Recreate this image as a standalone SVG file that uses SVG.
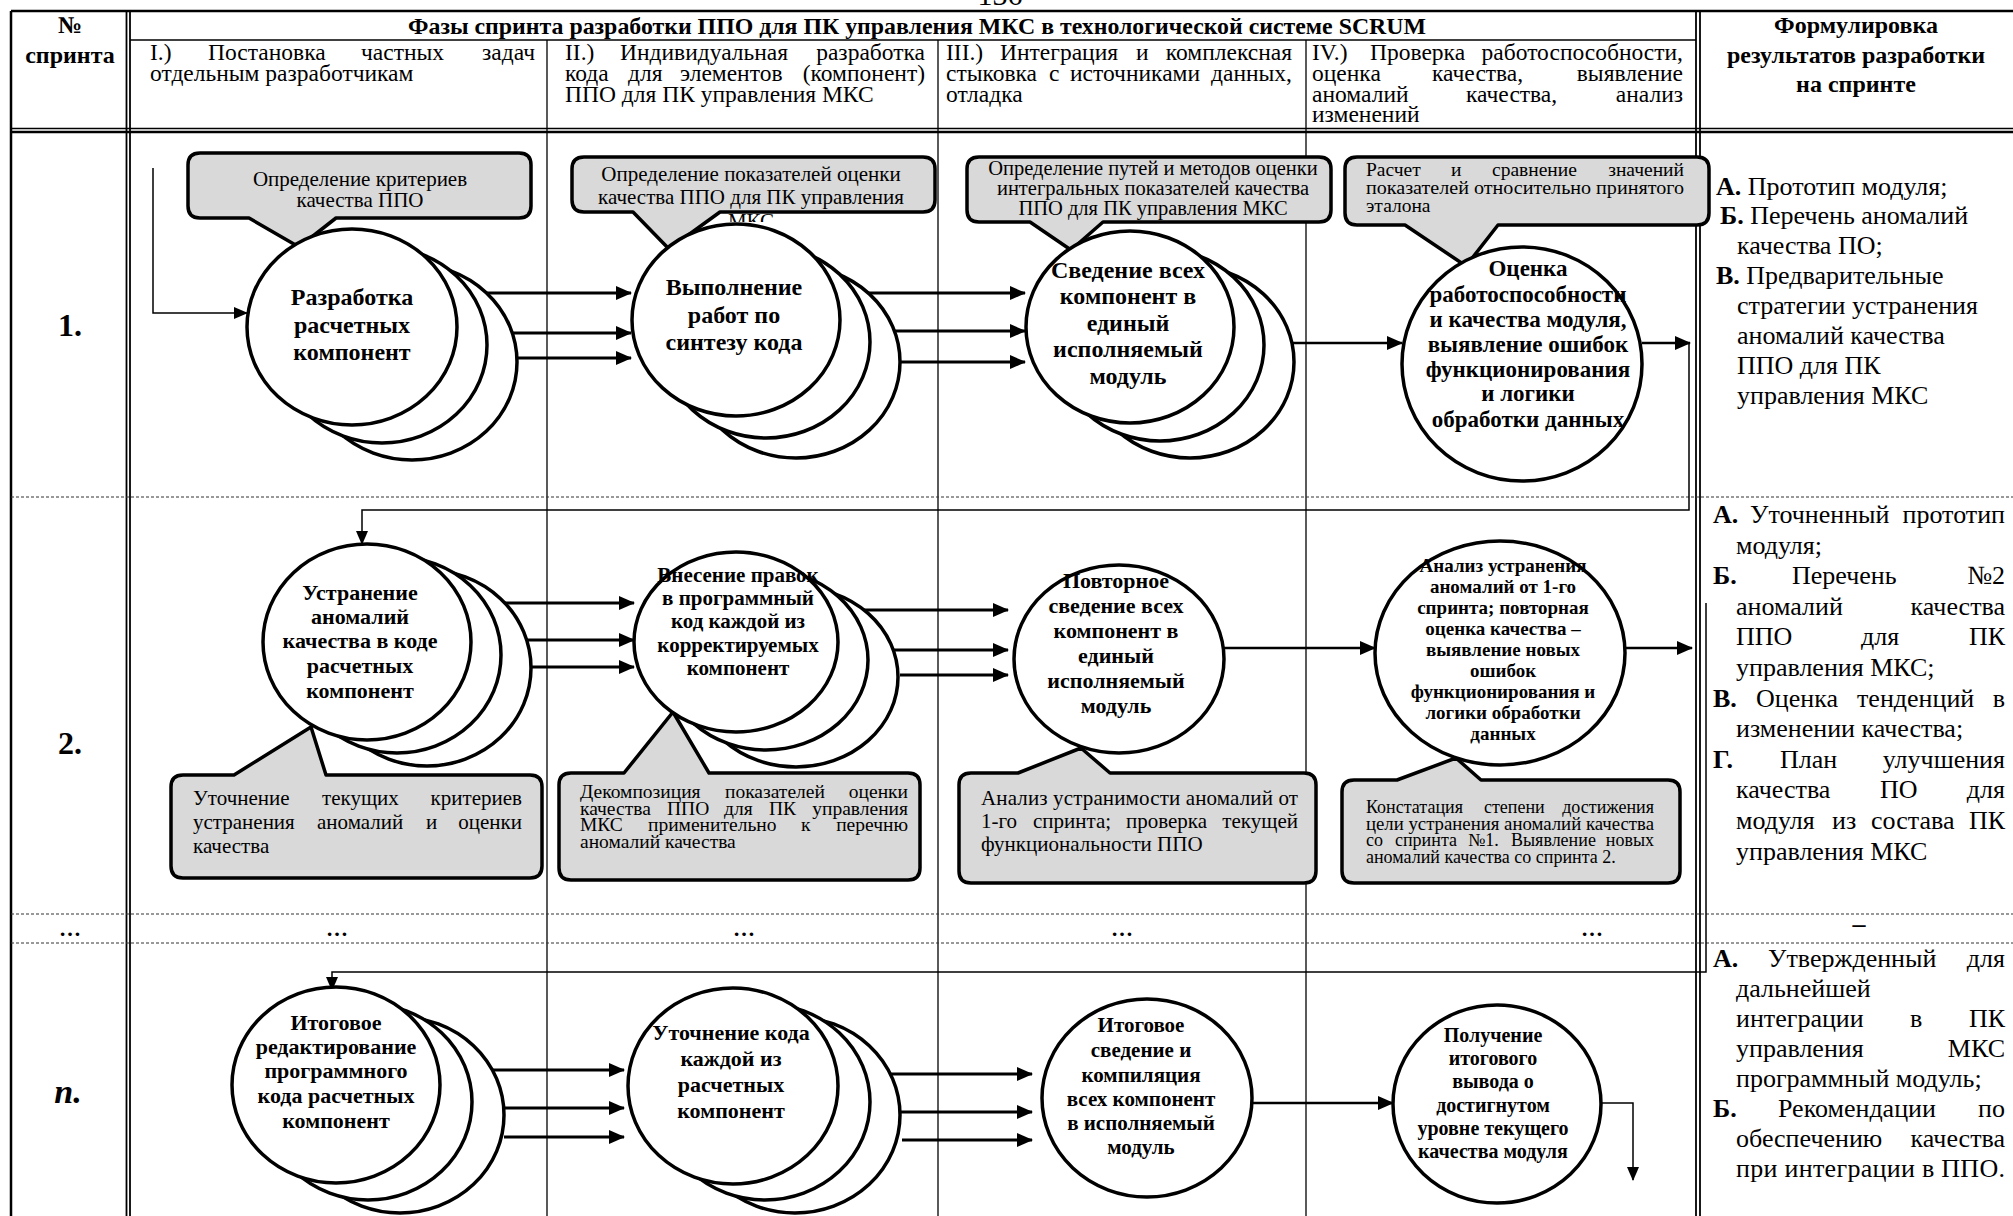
<svg xmlns="http://www.w3.org/2000/svg" width="2013" height="1216" viewBox="0 0 2013 1216">
<style>
text{font-family:"Liberation Serif","Times New Roman",serif;fill:#000}
.e{text-anchor:end}
.m{text-anchor:middle}
.b{font-weight:bold}
.ph{font-size:23.5px}
.hd{font-size:24px;font-weight:bold;text-anchor:middle}
.rs{font-size:26px}
.nd{font-weight:bold;text-anchor:middle}
.ln{stroke:#000;fill:none}
.thk{stroke-width:2.5}
.thin{stroke-width:1.3}
.dbl{stroke-width:1.8}
.dash{stroke:#333;stroke-width:1;stroke-dasharray:3 2;fill:none}
.co path{fill:#d9d9d9;stroke:#000;stroke-width:3.5;stroke-linejoin:round}
.node ellipse{fill:#fff;stroke:#000;stroke-width:3.5}
.wire{fill:none;stroke:#000}
.w3{stroke-width:3}
.w2{stroke-width:2.5}
.w1{stroke-width:1.5}
</style>
<defs>
<marker id="ah" viewBox="0 0 16 14" refX="15" refY="7" markerWidth="16" markerHeight="14" markerUnits="userSpaceOnUse" orient="auto"><path d="M0,0L16,7L0,14z"/></marker>
<marker id="as" viewBox="0 0 14 12" refX="13" refY="6" markerWidth="14" markerHeight="12" markerUnits="userSpaceOnUse" orient="auto"><path d="M0,0L14,6L0,12z"/></marker>
<clipPath id="cutMks"><rect x="700" y="200" width="120" height="22"/></clipPath>
</defs>

<rect width="2013" height="1216" fill="#fff"/>

<!-- page number, cut by the top edge -->
<text class="m" x="1000" y="5" font-size="30">136</text>

<!-- table grid -->
<g id="grid">
  <line class="ln thk" x1="11" y1="11" x2="2013" y2="11"/>
  <line class="ln thk" x1="11" y1="11" x2="11" y2="1216"/>
  <line class="ln dbl" x1="126.5" y1="11" x2="126.5" y2="1216"/>
  <line class="ln dbl" x1="130" y1="11" x2="130" y2="1216"/>
  <line class="ln thin" x1="130" y1="40" x2="1696" y2="40"/>
  <line class="ln thin" x1="547" y1="40" x2="547" y2="1216"/>
  <line class="ln thin" x1="938" y1="40" x2="938" y2="1216"/>
  <line class="ln thin" x1="1306" y1="40" x2="1306" y2="1216"/>
  <line class="ln dbl" x1="1696" y1="11" x2="1696" y2="1216"/>
  <line class="ln dbl" x1="1700" y1="11" x2="1700" y2="1216"/>
  <line class="ln" stroke-width="1.5" x1="11" y1="128.5" x2="2013" y2="128.5"/>
  <line class="ln thk" x1="11" y1="132" x2="2013" y2="132"/>
  <line class="dash" x1="11" y1="497" x2="2013" y2="497"/>
  <line class="dash" x1="11" y1="914" x2="2013" y2="914"/>
  <line class="dash" x1="11" y1="943" x2="2013" y2="943"/>
</g>

<!-- table header -->
<g id="header">
  <text class="hd" x="70" y="33">№</text>
  <text class="hd" x="70" y="63">спринта</text>
  <text class="hd" x="917" y="34" textLength="1018" lengthAdjust="spacingAndGlyphs">Фазы спринта разработки ППО для ПК управления МКС в технологической системе SCRUM</text>
  <text class="hd" x="1856" y="33">Формулировка</text>
  <text class="hd" x="1856" y="63">результатов разработки</text>
  <text class="hd" x="1856" y="92">на спринте</text>

  <!-- phase I -->
  <text class="ph" y="60"><tspan x="150">I.)</tspan><tspan x="208">Постановка</tspan><tspan x="361">частных</tspan></text>
  <text class="ph e" x="535" y="60">задач</text>
  <text class="ph" x="150" y="81">отдельным разработчикам</text>

  <!-- phase II -->
  <text class="ph" y="60"><tspan x="565">II.)</tspan><tspan x="620">Индивидуальная</tspan></text>
  <text class="ph e" x="925" y="60">разработка</text>
  <text class="ph" y="81"><tspan x="565">кода</tspan><tspan x="628">для</tspan><tspan x="680">элементов</tspan></text>
  <text class="ph e" x="925" y="81">(компонент)</text>
  <text class="ph" x="565" y="102">ППО для ПК управления МКС</text>

  <!-- phase III -->
  <text class="ph" y="60"><tspan x="946">III.)</tspan><tspan x="1000">Интеграция</tspan><tspan x="1136">и</tspan></text>
  <text class="ph e" x="1292" y="60">комплексная</text>
  <text class="ph" y="81"><tspan x="946">стыковка</tspan><tspan x="1049">с</tspan><tspan x="1070">источниками</tspan></text>
  <text class="ph e" x="1292" y="81">данных,</text>
  <text class="ph" x="946" y="102">отладка</text>

  <!-- phase IV -->
  <text class="ph" y="60"><tspan x="1312">IV.)</tspan><tspan x="1370">Проверка</tspan></text>
  <text class="ph e" x="1683" y="60">работоспособности,</text>
  <text class="ph" y="81"><tspan x="1312">оценка</tspan><tspan x="1432">качества,</tspan></text>
  <text class="ph e" x="1683" y="81">выявление</text>
  <text class="ph" y="102"><tspan x="1312">аномалий</tspan><tspan x="1466">качества,</tspan></text>
  <text class="ph e" x="1683" y="102">анализ</text>
  <text class="ph" x="1312" y="122">изменений</text>
</g>

<!-- sprint numbers -->
<g id="sprint-numbers">
  <text class="b m" x="70" y="336" font-size="32">1.</text>
  <text class="b m" x="70" y="754" font-size="32">2.</text>
  <text class="b m" x="70" y="936" font-size="22">…</text>
  <text class="b m" x="68" y="1103" font-size="34" font-style="italic">n.</text>
</g>

<!-- ellipsis row -->
<g id="gap-row">
  <text class="b m" x="337" y="936" font-size="22">…</text>
  <text class="b m" x="744" y="936" font-size="22">…</text>
  <text class="b m" x="1122" y="936" font-size="22">…</text>
  <text class="b m" x="1592" y="936" font-size="22">…</text>
  <text class="b m" x="1859" y="932" font-size="26">–</text>
</g>

<!-- callouts -->
<g id="callout-criteria" class="co">
  <path d="M200,153H519Q531,153 531,165V206Q531,218 519,218H336L299,247L249,218H200Q188,218 188,206V165Q188,153 200,153Z"/>
  <text class="m" x="360" y="186" font-size="21">Определение критериев</text>
  <text class="m" x="360" y="207" font-size="21">качества ППО</text>
</g>
<g id="callout-indicators" class="co">
  <path d="M584,157H923Q935,157 935,169V200Q935,212 923,212H720L669,249L633,212H584Q572,212 572,200V169Q572,157 584,157Z"/>
  <text class="m" x="751" y="181" font-size="21">Определение показателей оценки</text>
  <text class="m" x="751" y="204" font-size="21">качества ППО для ПК управления</text>
  <text class="m" x="751" y="228" font-size="21" clip-path="url(#cutMks)">МКС</text>
</g>
<g id="callout-methods" class="co">
  <path d="M979,157H1319Q1331,157 1331,169V210Q1331,222 1319,222H1103L1071,250L1030,222H979Q967,222 967,210V169Q967,157 979,157Z"/>
  <text class="m" x="1153" y="175" font-size="20.5">Определение путей и методов оценки</text>
  <text class="m" x="1153" y="195" font-size="20.5">интегральных показателей качества</text>
  <text class="m" x="1153" y="215" font-size="20.5">ППО для ПК управления МКС</text>
</g>
<g id="callout-compare" class="co">
  <path d="M1357,157H1697Q1709,157 1709,169V213Q1709,225 1697,225H1498L1466,266L1405,225H1357Q1345,225 1345,213V169Q1345,157 1357,157Z"/>
  <text y="176" font-size="19.5"><tspan x="1366">Расчет</tspan><tspan x="1451">и</tspan><tspan x="1492">сравнение</tspan></text>
  <text class="e" x="1684" y="176" font-size="19.5">значений</text>
  <text x="1366" y="194" font-size="19.5" textLength="318" lengthAdjust="spacingAndGlyphs">показателей относительно принятого</text>
  <text x="1366" y="212" font-size="19.5">эталона</text>
</g>
<g id="callout-refine" class="co">
  <path d="M183,775H234L311,727L326,775H530Q542,775 542,787V866Q542,878 530,878H183Q171,878 171,866V787Q171,775 183,775Z"/>
  <text y="805" font-size="21"><tspan x="193">Уточнение</tspan><tspan x="322">текущих</tspan></text>
  <text class="e" x="522" y="805" font-size="21">критериев</text>
  <text y="829" font-size="21"><tspan x="193">устранения</tspan><tspan x="317">аномалий</tspan><tspan x="426">и</tspan></text>
  <text class="e" x="522" y="829" font-size="21">оценки</text>
  <text x="193" y="853" font-size="21">качества</text>
</g>
<g id="callout-decompose" class="co">
  <path d="M571,773H624L673,712L709,773H908Q920,773 920,785V868Q920,880 908,880H571Q559,880 559,868V785Q559,773 571,773Z"/>
  <text y="798" font-size="19.5"><tspan x="580">Декомпозиция</tspan><tspan x="725">показателей</tspan></text>
  <text class="e" x="908" y="798" font-size="19.5">оценки</text>
  <text y="814.5" font-size="19.5"><tspan x="580">качества</tspan><tspan x="667">ППО</tspan><tspan x="724">для</tspan><tspan x="769">ПК</tspan></text>
  <text class="e" x="908" y="814.5" font-size="19.5">управления</text>
  <text y="831" font-size="19.5"><tspan x="580">МКС</tspan><tspan x="648">применительно</tspan><tspan x="801">к</tspan></text>
  <text class="e" x="908" y="831" font-size="19.5">перечню</text>
  <text x="580" y="847.5" font-size="19.5">аномалий качества</text>
</g>
<g id="callout-fixability" class="co">
  <path d="M971,773H1018L1081,748L1110,773H1304Q1316,773 1316,785V871Q1316,883 1304,883H971Q959,883 959,871V785Q959,773 971,773Z"/>
  <text x="981" y="805" font-size="21" textLength="317" lengthAdjust="spacing">Анализ устранимости аномалий от</text>
  <text y="828" font-size="21"><tspan x="981">1-го</tspan><tspan x="1033">спринта;</tspan><tspan x="1126">проверка</tspan></text>
  <text class="e" x="1298" y="828" font-size="21">текущей</text>
  <text x="981" y="851" font-size="21">функциональности ППО</text>
</g>
<g id="callout-progress" class="co">
  <path d="M1354,780H1397L1456,758L1481,780H1668Q1680,780 1680,792V871Q1680,883 1668,883H1354Q1342,883 1342,871V792Q1342,780 1354,780Z"/>
  <text y="813" font-size="18"><tspan x="1366">Констатация</tspan><tspan x="1484">степени</tspan></text>
  <text class="e" x="1654" y="813" font-size="18">достижения</text>
  <text x="1366" y="830" font-size="18" textLength="288" lengthAdjust="spacingAndGlyphs">цели устранения аномалий качества</text>
  <text y="846" font-size="18"><tspan x="1366">со</tspan><tspan x="1395">спринта</tspan><tspan x="1468">№1.</tspan><tspan x="1511">Выявление</tspan></text>
  <text class="e" x="1654" y="846" font-size="18">новых</text>
  <text x="1366" y="863" font-size="18">аномалий качества со спринта 2.</text>
</g>

<!-- connectors -->
<g id="connectors">
  <polyline class="wire w1" points="153,168 153,313 247,313" marker-end="url(#as)"/>
  <line class="wire w3" x1="452" y1="293" x2="631" y2="293" marker-end="url(#ah)"/>
  <line class="wire w3" x1="488" y1="333" x2="631" y2="333" marker-end="url(#ah)"/>
  <line class="wire w3" x1="516" y1="358" x2="631" y2="358" marker-end="url(#ah)"/>
  <line class="wire w3" x1="834" y1="293" x2="1025" y2="293" marker-end="url(#ah)"/>
  <line class="wire w3" x1="864" y1="331" x2="1025" y2="331" marker-end="url(#ah)"/>
  <line class="wire w3" x1="898" y1="362" x2="1025" y2="362" marker-end="url(#ah)"/>
  <line class="wire w2" x1="1234" y1="343" x2="1402" y2="343" marker-end="url(#ah)"/>
  <line class="wire w2" x1="1642" y1="343" x2="1690" y2="343" marker-end="url(#ah)"/>
  <polyline class="wire w1" points="1689,343 1689,510 362,510 362,544" marker-end="url(#as)"/>

  <line class="wire w3" x1="469" y1="603" x2="634" y2="603" marker-end="url(#ah)"/>
  <line class="wire w3" x1="498" y1="640" x2="634" y2="640" marker-end="url(#ah)"/>
  <line class="wire w3" x1="532" y1="667" x2="634" y2="667" marker-end="url(#ah)"/>
  <line class="wire w3" x1="842" y1="610" x2="1008" y2="610" marker-end="url(#ah)"/>
  <line class="wire w3" x1="871" y1="650" x2="1008" y2="650" marker-end="url(#ah)"/>
  <line class="wire w3" x1="900" y1="675" x2="1008" y2="675" marker-end="url(#ah)"/>
  <line class="wire w2" x1="1224" y1="648" x2="1375" y2="648" marker-end="url(#ah)"/>
  <line class="wire w2" x1="1625" y1="648" x2="1692" y2="648" marker-end="url(#ah)"/>
  <polyline class="wire w1" points="1706,603 1706,972 332,972 332,990" marker-end="url(#as)"/>

  <line class="wire w3" x1="440" y1="1070" x2="624" y2="1070" marker-end="url(#ah)"/>
  <line class="wire w3" x1="472" y1="1108" x2="624" y2="1108" marker-end="url(#ah)"/>
  <line class="wire w3" x1="504" y1="1137" x2="624" y2="1137" marker-end="url(#ah)"/>
  <line class="wire w3" x1="839" y1="1074" x2="1032" y2="1074" marker-end="url(#ah)"/>
  <line class="wire w3" x1="871" y1="1112" x2="1032" y2="1112" marker-end="url(#ah)"/>
  <line class="wire w3" x1="902" y1="1140" x2="1032" y2="1140" marker-end="url(#ah)"/>
  <line class="wire w2" x1="1252" y1="1103" x2="1393" y2="1103" marker-end="url(#ah)"/>
  <polyline class="wire w1" points="1601,1103 1633,1103 1633,1180" marker-end="url(#as)"/>
</g>

<!-- sprint 1 -->
<g id="n1-develop" class="node">
  <ellipse cx="412" cy="362" rx="105" ry="98"/>
  <ellipse cx="382" cy="345" rx="105" ry="98"/>
  <ellipse cx="352" cy="327" rx="105" ry="98"/>
  <text class="nd" font-size="24"><tspan x="352" y="305">Разработка</tspan><tspan x="352" y="333">расчетных</tspan><tspan x="352" y="360">компонент</tspan></text>
</g>
<g id="n1-synthesis" class="node">
  <ellipse cx="796" cy="362" rx="104" ry="96"/>
  <ellipse cx="766" cy="342" rx="104" ry="96"/>
  <ellipse cx="736" cy="320" rx="104" ry="96"/>
  <text class="nd" font-size="24"><tspan x="734" y="295">Выполнение</tspan><tspan x="734" y="323">работ по</tspan><tspan x="734" y="350">синтезу кода</tspan></text>
</g>
<g id="n1-integrate" class="node">
  <ellipse cx="1190" cy="362" rx="104" ry="96"/>
  <ellipse cx="1160" cy="345" rx="104" ry="96"/>
  <ellipse cx="1130" cy="327" rx="104" ry="96"/>
  <text class="nd" font-size="24"><tspan x="1128" y="278">Сведение всех</tspan><tspan x="1128" y="304">компонент в</tspan><tspan x="1128" y="331">единый</tspan><tspan x="1128" y="357">исполняемый</tspan><tspan x="1128" y="384">модуль</tspan></text>
</g>
<g id="n1-evaluate" class="node">
  <ellipse cx="1522" cy="364" rx="120" ry="117"/>
  <text class="nd" font-size="23"><tspan x="1528" y="276">Оценка</tspan><tspan x="1528" y="302">работоспособности</tspan><tspan x="1528" y="327">и качества модуля,</tspan><tspan x="1528" y="352">выявление ошибок</tspan><tspan x="1528" y="377">функционирования</tspan><tspan x="1528" y="401">и логики</tspan><tspan x="1528" y="427">обработки данных</tspan></text>
</g>

<!-- sprint 2 -->
<g id="n2-fix" class="node">
  <ellipse cx="427" cy="668" rx="104" ry="98"/>
  <ellipse cx="397" cy="655" rx="104" ry="98"/>
  <ellipse cx="367" cy="642" rx="104" ry="98"/>
  <text class="nd" font-size="22"><tspan x="360" y="600">Устранение</tspan><tspan x="360" y="624">аномалий</tspan><tspan x="360" y="648">качества в коде</tspan><tspan x="360" y="673">расчетных</tspan><tspan x="360" y="698">компонент</tspan></text>
</g>
<g id="n2-edit" class="node">
  <ellipse cx="796" cy="677" rx="102" ry="90"/>
  <ellipse cx="766" cy="660" rx="102" ry="90"/>
  <ellipse cx="736" cy="642" rx="102" ry="90"/>
  <text class="nd" font-size="21"><tspan x="738" y="582">Внесение правок</tspan><tspan x="738" y="605">в программный</tspan><tspan x="738" y="628">код каждой из</tspan><tspan x="738" y="652">корректируемых</tspan><tspan x="738" y="675">компонент</tspan></text>
</g>
<g id="n2-reintegrate" class="node">
  <ellipse cx="1119" cy="659" rx="105" ry="94"/>
  <text class="nd" font-size="22"><tspan x="1116" y="588">Повторное</tspan><tspan x="1116" y="613">сведение всех</tspan><tspan x="1116" y="638">компонент в</tspan><tspan x="1116" y="663">единый</tspan><tspan x="1116" y="688">исполняемый</tspan><tspan x="1116" y="713">модуль</tspan></text>
</g>
<g id="n2-analyse" class="node">
  <ellipse cx="1500" cy="653" rx="125" ry="112"/>
  <text class="nd" font-size="19"><tspan x="1503" y="572">Анализ устранения</tspan><tspan x="1503" y="593">аномалий от 1-го</tspan><tspan x="1503" y="614">спринта; повторная</tspan><tspan x="1503" y="635">оценка качества –</tspan><tspan x="1503" y="656">выявление новых</tspan><tspan x="1503" y="677">ошибок</tspan><tspan x="1503" y="698">функционирования и</tspan><tspan x="1503" y="719">логики обработки</tspan><tspan x="1503" y="740">данных</tspan></text>
</g>

<!-- sprint n -->
<g id="nn-final-edit" class="node">
  <ellipse cx="400" cy="1115" rx="104" ry="98"/>
  <ellipse cx="368" cy="1102" rx="104" ry="98"/>
  <ellipse cx="336" cy="1085" rx="104" ry="98"/>
  <text class="nd" font-size="22"><tspan x="336" y="1030">Итоговое</tspan><tspan x="336" y="1054">редактирование</tspan><tspan x="336" y="1078">программного</tspan><tspan x="336" y="1103">кода расчетных</tspan><tspan x="336" y="1128">компонент</tspan></text>
</g>
<g id="nn-refine" class="node">
  <ellipse cx="795" cy="1115" rx="105" ry="98"/>
  <ellipse cx="765" cy="1102" rx="105" ry="98"/>
  <ellipse cx="733" cy="1086" rx="105" ry="98"/>
  <text class="nd" font-size="22"><tspan x="731" y="1040">Уточнение кода</tspan><tspan x="731" y="1066">каждой из</tspan><tspan x="731" y="1092">расчетных</tspan><tspan x="731" y="1118">компонент</tspan></text>
</g>
<g id="nn-compile" class="node">
  <ellipse cx="1147" cy="1098" rx="105" ry="99"/>
  <text class="nd" font-size="21"><tspan x="1141" y="1032">Итоговое</tspan><tspan x="1141" y="1057">сведение и</tspan><tspan x="1141" y="1082">компиляция</tspan><tspan x="1141" y="1106">всех компонент</tspan><tspan x="1141" y="1130">в исполняемый</tspan><tspan x="1141" y="1154">модуль</tspan></text>
</g>
<g id="nn-conclusion" class="node">
  <ellipse cx="1497" cy="1104" rx="104" ry="99"/>
  <text class="nd" font-size="20"><tspan x="1493" y="1042">Получение</tspan><tspan x="1493" y="1065">итогового</tspan><tspan x="1493" y="1088">вывода о</tspan><tspan x="1493" y="1112">достигнутом</tspan><tspan x="1493" y="1135">уровне текущего</tspan><tspan x="1493" y="1158">качества модуля</tspan></text>
</g>

<!-- sprint results -->
<g id="results-1">
  <text class="rs" x="1716" y="195"><tspan class="b">А.</tspan> Прототип модуля;</text>
  <text class="rs" x="1720" y="224"><tspan class="b">Б.</tspan> Перечень аномалий</text>
  <text class="rs" x="1737" y="254">качества ПО;</text>
  <text class="rs" x="1716" y="284"><tspan class="b">В.</tspan> Предварительные</text>
  <text class="rs" x="1737" y="314">стратегии устранения</text>
  <text class="rs" x="1737" y="344">аномалий качества</text>
  <text class="rs" x="1737" y="374">ППО для ПК</text>
  <text class="rs" x="1737" y="404">управления МКС</text>
</g>
<g id="results-2">
  <text class="rs" y="523"><tspan class="b" x="1713">А.</tspan><tspan x="1750">Уточненный</tspan></text>
  <text class="rs e" x="2005" y="523">прототип</text>
  <text class="rs" x="1736" y="554">модуля;</text>
  <text class="rs" y="584"><tspan class="b" x="1713">Б.</tspan><tspan x="1792">Перечень</tspan></text>
  <text class="rs e" x="2005" y="584">№2</text>
  <text class="rs" x="1736" y="615">аномалий</text>
  <text class="rs e" x="2005" y="615">качества</text>
  <text class="rs" y="645"><tspan x="1736">ППО</tspan><tspan x="1861">для</tspan></text>
  <text class="rs e" x="2005" y="645">ПК</text>
  <text class="rs" x="1736" y="676">управления МКС;</text>
  <text class="rs" y="707"><tspan class="b" x="1713">В.</tspan><tspan x="1756">Оценка</tspan><tspan x="1857">тенденций</tspan></text>
  <text class="rs e" x="2005" y="707">в</text>
  <text class="rs" x="1736" y="737">изменении качества;</text>
  <text class="rs" y="768"><tspan class="b" x="1713">Г.</tspan><tspan x="1780">План</tspan></text>
  <text class="rs e" x="2005" y="768">улучшения</text>
  <text class="rs" y="798"><tspan x="1736">качества</tspan><tspan x="1880">ПО</tspan></text>
  <text class="rs e" x="2005" y="798">для</text>
  <text class="rs" y="829"><tspan x="1736">модуля</tspan><tspan x="1832">из</tspan><tspan x="1871">состава</tspan></text>
  <text class="rs e" x="2005" y="829">ПК</text>
  <text class="rs" x="1736" y="860">управления МКС</text>
</g>
<g id="results-n">
  <text class="rs" y="967"><tspan class="b" x="1713">А.</tspan><tspan x="1768">Утвержденный</tspan></text>
  <text class="rs e" x="2005" y="967">для</text>
  <text class="rs" x="1736" y="997">дальнейшей</text>
  <text class="rs" y="1027"><tspan x="1736">интеграции</tspan><tspan x="1910">в</tspan></text>
  <text class="rs e" x="2005" y="1027">ПК</text>
  <text class="rs" x="1736" y="1057">управления</text>
  <text class="rs e" x="2005" y="1057">МКС</text>
  <text class="rs" x="1736" y="1087">программный модуль;</text>
  <text class="rs" y="1117"><tspan class="b" x="1713">Б.</tspan><tspan x="1778">Рекомендации</tspan></text>
  <text class="rs e" x="2005" y="1117">по</text>
  <text class="rs" x="1736" y="1147">обеспечению</text>
  <text class="rs e" x="2005" y="1147">качества</text>
  <text class="rs" x="1736" y="1177" textLength="269" lengthAdjust="spacing">при интеграции в ППО.</text>
</g>
</svg>
